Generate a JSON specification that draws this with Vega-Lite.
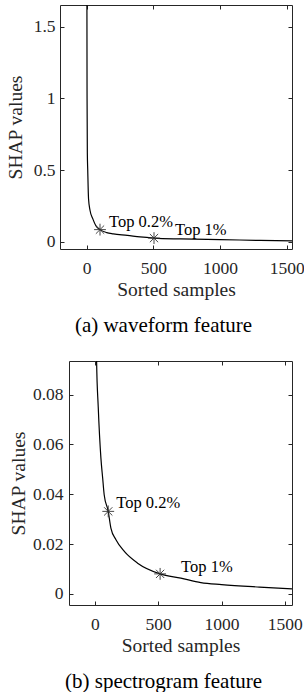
{
  "$schema": "https://vega.github.io/schema/vega-lite/v6.json",
  "padding": {"left": 5, "top": 4, "right": 0, "bottom": 0},
  "background": "white",
  "config": {
    "view": {"stroke": null},
    "font": "Liberation Serif",
    "style": {"guide-label": {"font": "Liberation Serif"}, "guide-title": {"font": "Liberation Serif"}},
    "axis": {
      "grid": false,
      "domainColor": "#262626",
      "domainWidth": 1,
      "tickColor": "#262626",
      "tickSize": -4,
      "tickWidth": 1,
      "labelFont": "Liberation Serif",
      "labelFontSize": 17.5,
      "labelColor": "#262626",
      "labelFlush": false,
      "labelOverlap": false,
      "titleFont": "Liberation Serif",
      "titleFontSize": 19.5,
      "titleFontWeight": "normal",
      "titleColor": "#262626"
    },
    "axisBottom": {"labelPadding": 14, "titlePadding": 4},
    "axisLeft": {"labelPadding": 9, "titlePadding": 7.5},
    "title": {"font": "Liberation Serif", "fontSize": 21, "fontWeight": "normal", "color": "black"}
  },
  "concat": [
    {
      "width": 232,
      "height": 244,
      "title": {"text": "(a) waveform feature", "orient": "bottom", "anchor": "middle", "frame": "group", "dx": -12.5, "offset": 16},
      "layer": [
        {
          "data": {"values": [
            {"sample": 1, "shap": 4.0}, {"sample": 2, "shap": 1.6}, {"sample": 3, "shap": 1.0},
            {"sample": 5, "shap": 0.62}, {"sample": 8, "shap": 0.5}, {"sample": 14, "shap": 0.3},
            {"sample": 25, "shap": 0.22}, {"sample": 47, "shap": 0.158}, {"sample": 70, "shap": 0.11},
            {"sample": 100, "shap": 0.085}, {"sample": 150, "shap": 0.064}, {"sample": 200, "shap": 0.055},
            {"sample": 305, "shap": 0.045}, {"sample": 400, "shap": 0.034}, {"sample": 505, "shap": 0.026},
            {"sample": 705, "shap": 0.02}, {"sample": 1000, "shap": 0.015}, {"sample": 1300, "shap": 0.01},
            {"sample": 1540, "shap": 0.006}
          ]},
          "mark": {"type": "line", "color": "black", "strokeWidth": 1.2, "clip": true, "interpolate": "monotone"},
          "encoding": {
            "x": {"field": "sample", "type": "quantitative", "scale": {"domain": [-200, 1540], "nice": false, "zero": false},
                  "axis": {"orient": "bottom", "values": [0, 500, 1000, 1500], "format": "d", "title": "Sorted samples", "labelFont": "Liberation Serif"}},
            "y": {"field": "shap", "type": "quantitative", "scale": {"domain": [-0.05, 1.65], "nice": false, "zero": false},
                  "axis": {"orient": "left", "values": [0, 0.5, 1, 1.5], "format": "~g", "title": "SHAP values", "labelFont": "Liberation Serif"}}
          }
        },
        {
          "data": {"values": [
            {"sample": 100, "shap": 0.085, "label": "Top 0.2%"},
            {"sample": 505, "shap": 0.026, "label": "Top 1%"}
          ]},
          "mark": {"type": "point", "shape": "M-1,0L1,0M0,-1L0,1M-0.7,-0.7L0.7,0.7M-0.7,0.7L0.7,-0.7", "filled": false, "size": 140, "stroke": "#333333", "strokeWidth": 0.9, "opacity": 1},
          "encoding": {
            "x": {"field": "sample", "type": "quantitative", "axis": {"orient": "top", "values": [0, 500, 1000, 1500], "labels": false, "title": null}},
            "y": {"field": "shap", "type": "quantitative", "axis": {"orient": "right", "values": [0, 0.5, 1, 1.5], "labels": false, "title": null}}
          }
        },
        {
          "data": {"values": [{"sample": 100, "shap": 0.085, "label": "Top 0.2%"}]},
          "mark": {"type": "text", "align": "left", "baseline": "middle", "dx": 9, "dy": -8, "fontSize": 16.5, "font": "Liberation Serif", "color": "black"},
          "encoding": {
            "x": {"field": "sample", "type": "quantitative", "axis": null},
            "y": {"field": "shap", "type": "quantitative", "axis": null},
            "text": {"field": "label"}
          }
        },
        {
          "data": {"values": [{"sample": 505, "shap": 0.026, "label": "Top 1%"}]},
          "mark": {"type": "text", "align": "left", "baseline": "middle", "dx": 21, "dy": -8, "fontSize": 16.5, "font": "Liberation Serif", "color": "black"},
          "encoding": {
            "x": {"field": "sample", "type": "quantitative", "axis": null},
            "y": {"field": "shap", "type": "quantitative", "axis": null},
            "text": {"field": "label"}
          }
        }
      ],
      "resolve": {"axis": {"x": "independent", "y": "independent"}}
    },
    {
      "width": 232,
      "height": 244,
      "title": {"text": "(b) spectrogram feature", "orient": "bottom", "anchor": "middle", "frame": "group", "dx": -12.5, "offset": 16},
      "layer": [
        {
          "data": {"values": [
            {"sample": 1, "shap": 0.5}, {"sample": 5, "shap": 0.15}, {"sample": 10, "shap": 0.105},
            {"sample": 13, "shap": 0.0935}, {"sample": 26, "shap": 0.075}, {"sample": 47, "shap": 0.0546},
            {"sample": 61, "shap": 0.0465}, {"sample": 73, "shap": 0.0398}, {"sample": 105, "shap": 0.0331},
            {"sample": 126, "shap": 0.0264}, {"sample": 166, "shap": 0.0217}, {"sample": 232, "shap": 0.017},
            {"sample": 337, "shap": 0.0123}, {"sample": 515, "shap": 0.008}, {"sample": 679, "shap": 0.0063},
            {"sample": 837, "shap": 0.0045}, {"sample": 1000, "shap": 0.0037}, {"sample": 1300, "shap": 0.0027},
            {"sample": 1557, "shap": 0.002}
          ]},
          "mark": {"type": "line", "color": "black", "strokeWidth": 1.2, "clip": true, "interpolate": "monotone"},
          "encoding": {
            "x": {"field": "sample", "type": "quantitative", "scale": {"domain": [-205, 1557], "nice": false, "zero": false, "range": [9, 232]},
                  "axis": {"orient": "bottom", "values": [0, 500, 1000, 1500], "format": "d", "title": "Sorted samples", "labelFont": "Liberation Serif"}},
            "y": {"field": "shap", "type": "quantitative", "scale": {"domain": [-0.0045, 0.0935], "nice": false, "zero": false},
                  "axis": {"orient": "left", "offset": -9, "values": [0, 0.02, 0.04, 0.06, 0.08], "format": "~g", "title": "SHAP values", "labelPadding": 10, "titlePadding": 4, "labelFont": "Liberation Serif"}}
          }
        },
        {
          "data": {"values": [
            {"sample": 105, "shap": 0.0331, "label": "Top 0.2%"},
            {"sample": 515, "shap": 0.008, "label": "Top 1%"}
          ]},
          "mark": {"type": "point", "shape": "M-1,0L1,0M0,-1L0,1M-0.7,-0.7L0.7,0.7M-0.7,0.7L0.7,-0.7", "filled": false, "size": 140, "stroke": "#333333", "strokeWidth": 0.9, "opacity": 1},
          "encoding": {
            "x": {"field": "sample", "type": "quantitative", "axis": {"orient": "top", "values": [0, 500, 1000, 1500], "labels": false, "title": null}},
            "y": {"field": "shap", "type": "quantitative", "axis": {"orient": "right", "values": [0, 0.02, 0.04, 0.06, 0.08], "labels": false, "title": null}}
          }
        },
        {
          "data": {"values": [{"sample": 105, "shap": 0.0331, "label": "Top 0.2%"}]},
          "mark": {"type": "text", "align": "left", "baseline": "middle", "dx": 8, "dy": -8, "fontSize": 16.5, "font": "Liberation Serif", "color": "black"},
          "encoding": {
            "x": {"field": "sample", "type": "quantitative", "axis": null},
            "y": {"field": "shap", "type": "quantitative", "axis": null},
            "text": {"field": "label"}
          }
        },
        {
          "data": {"values": [{"sample": 515, "shap": 0.008, "label": "Top 1%"}]},
          "mark": {"type": "text", "align": "left", "baseline": "middle", "dx": 21, "dy": -7, "fontSize": 16.5, "font": "Liberation Serif", "color": "black"},
          "encoding": {
            "x": {"field": "sample", "type": "quantitative", "axis": null},
            "y": {"field": "shap", "type": "quantitative", "axis": null},
            "text": {"field": "label"}
          }
        }
      ],
      "resolve": {"axis": {"x": "independent", "y": "independent"}}
    }
  ],
  "columns": 1,
  "align": "none",
  "spacing": 24
}
